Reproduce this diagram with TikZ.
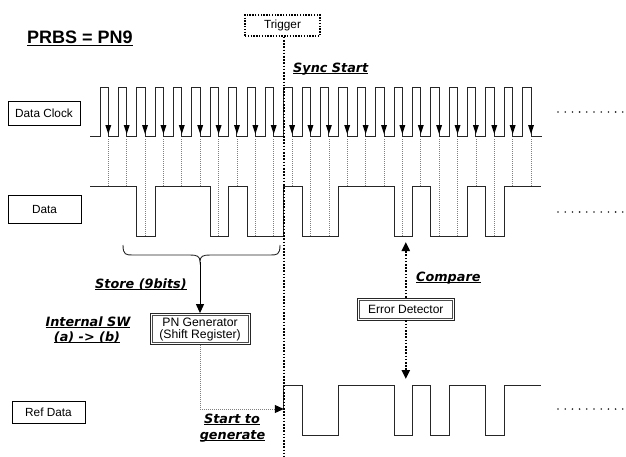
\documentclass[tikz,border=0pt]{standalone}
\usepackage{fontspec}
\setmainfont{Liberation Sans}
\newfontfamily\labfont{DejaVu Sans}
\usetikzlibrary{arrows.meta}
\newsavebox\ulbox
\newcommand\myul[3]{\sbox\ulbox{#3}\rlap{\rule[-#1]{\wd\ulbox}{#2}}\usebox\ulbox}
\tikzset{
  wave/.style={line width=1pt, draw=black!85},
  lbox/.style={draw=black, line width=0.8pt, inner sep=0pt, font=\fontsize{11.8}{14}\selectfont},
  dbox/.style={draw=black!85, line width=0.8pt, inner sep=0pt, align=center, font=\fontsize{12.2}{12}\selectfont},
  inner/.style={draw=black!70, line width=0.7pt},
  lab/.style={inner sep=0pt, font=\labfont\bfseries\itshape\fontsize{12.8}{15}\selectfont},
  sample/.style={draw=gray, line width=0.7pt, dash pattern=on 1pt off 1pt},
  thickdot/.style={line width=2pt, dash pattern=on 1.6pt off 1.6pt},
  tri/.style={-{Triangle[length=9pt,width=8pt,color=black]}}
}
\begin{document}
\begin{tikzpicture}[x=1pt,y=-1pt]
\fill[white] (0,0) rectangle (626,456);
\useasboundingbox (0,0) rectangle (626,456);

% title
\node[anchor=base west, inner sep=0pt, font=\bfseries\fontsize{18}{21}\selectfont] (title) at (27,43) {\myul{3pt}{1.5pt}{PRBS = PN9}};

% label boxes
\node[lbox, minimum width=72pt, minimum height=24pt] (clk) at (44,113) {Data Clock};
\node[lbox, minimum width=73pt, minimum height=28pt] (dat) at (44.5,209) {Data};
\node[lbox, minimum width=73pt, minimum height=22pt] (ref) at (48.5,412) {Ref Data};

% sampling lines
\foreach \k/\b in {0/1,1/1,2/0,3/1,4/1,5/1,6/0,7/1,8/0,9/0,10/1,11/0,12/0,13/1,14/1,15/1,16/0,17/1,18/0,19/0,20/1,21/0,22/1,23/1}
  \draw[sample] ({108.3+18.38*\k},139) -- ({108.3+18.38*\k},{236-50*\b});

% clock
\draw[wave] (90,136.7) \foreach \k in {0,...,23} { -- ({100+18.38*\k},136.7) -- ({100+18.38*\k},87) -- ({108.3+18.38*\k},87) -- ({108.3+18.38*\k},136.7) } -- (541.7,136.7);
\foreach \k in {0,...,23}
  \fill[black] ({105.3+18.38*\k},125) -- ({111.3+18.38*\k},125) -- ({108.3+18.38*\k},134) -- cycle;

% data
\draw[wave] (90,186) -- (136.76,186) -- (136.76,236) -- (155.14,236) -- (155.14,186) -- (210.28,186) -- (210.28,236) -- (228.66,236) -- (228.66,186) -- (247.04,186) -- (247.04,236) -- (283.8,236) -- (283.8,186) -- (302.18,186) -- (302.18,236) -- (338.94,236) -- (338.94,186) -- (394.08,186) -- (394.08,236) -- (412.46,236) -- (412.46,186) -- (430.84,186) -- (430.84,236) -- (467.6,236) -- (467.6,186) -- (485.98,186) -- (485.98,236) -- (504.36,236) -- (504.36,186) -- (541.12,186);

% ref data
\coordinate (refstart) at (283.8,409);
\draw[wave] (refstart) -- (283.8,385) -- (302.18,385) -- (302.18,435) -- (338.94,435) -- (338.94,385) -- (394.08,385) -- (394.08,435) -- (412.46,435) -- (412.46,385) -- (430.84,385) -- (430.84,435) -- (449.22,435) -- (449.22,385) -- (485.98,385) -- (485.98,435) -- (504.36,435) -- (504.36,385) -- (541.12,385);

% continuation dots
\foreach \y in {112,212,409}
  \foreach \i in {0,...,9}
    \fill[black!85] ({558+7.2*\i},\y) circle (0.9pt);

% trigger
\node[draw, line width=1.4pt, dash pattern=on 1.4pt off 1.4pt, minimum width=75pt, minimum height=21pt, inner sep=0pt, font=\fontsize{11.8}{14}\selectfont] (trig) at (282.5,25.5) {Trigger};
\coordinate (trigbot) at (283.8,456);
\draw[thickdot] (trig.south -| trigbot) -- (trigbot);

\node[lab, anchor=base west] (sync) at (293,72) {\myul{2pt}{1pt}{Sync Start}};

% brace
\coordinate (btip) at (200,262);
\draw[line width=0.9pt, black!85] (123,245) .. controls (123,255) and (126,255) .. (133,255) -- (190,255) .. controls (197,255) and (200,256) .. (btip) .. controls (200,256) and (203,255) .. (210,255) -- (270,255) .. controls (277,255) and (280,255) .. (280,245);
\node[lab, anchor=base west] (store) at (95,288) {\myul{2pt}{1pt}{Store (9bits)}};

% PN generator
\node[dbox, minimum width=100pt, minimum height=31pt] (pn) at (200,329) {PN Generator\\(Shift Register)};
\draw[inner] ([shift={(2.4,2.4)}]pn.north west) rectangle ([shift={(-2.4,-2.4)}]pn.south east);
\draw[line width=1pt, tri] (btip) -- (pn.north);
\node[lab, anchor=base] (isw) at (88,326) {\myul{2pt}{1pt}{Internal SW}};
\node[lab, anchor=base] (ab) at (87,341) {\myul{2pt}{1pt}{(a) -> (b)}};
\draw[gray, line width=1pt, dash pattern=on 1pt off 1pt, tri] (pn.south) |- (refstart);
\node[lab, anchor=base] (st) at (232,423) {\myul{2pt}{1pt}{Start to}};
\node[lab, anchor=base] (gen) at (232.5,439) {\myul{2pt}{1pt}{generate}};

% error detector
\node[dbox, minimum width=97pt, minimum height=22pt, font=\fontsize{12}{14}\selectfont] (err) at (405.8,309) {Error Detector};
\draw[inner] ([shift={(2.4,2.4)}]err.north west) rectangle ([shift={(-2.4,-2.4)}]err.south east);
\coordinate (cmpD) at (405.8,242);
\coordinate (cmpR) at (405.8,379);
\draw[thickdot, tri] (err.north) -- (cmpD);
\draw[thickdot, tri] (err.south) -- (cmpR);
\node[lab, anchor=base west] (cmp) at (416,281) {\myul{2pt}{1pt}{Compare}};
\end{tikzpicture}
\end{document}
